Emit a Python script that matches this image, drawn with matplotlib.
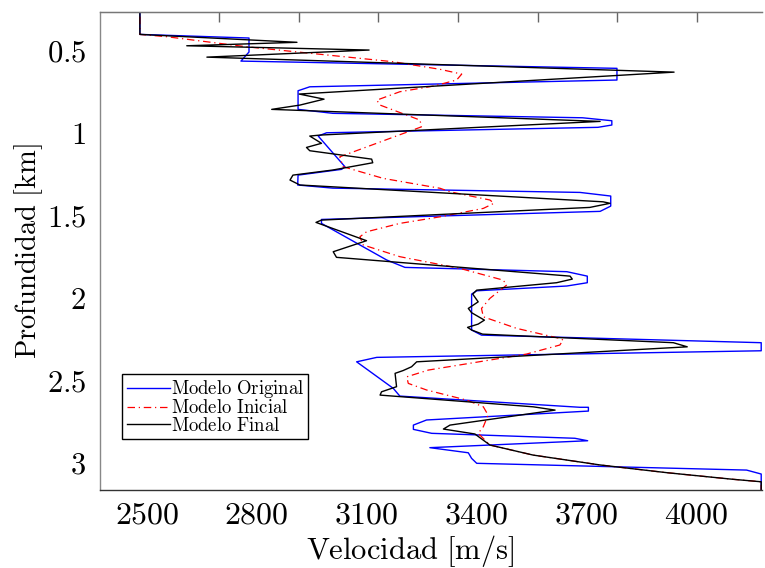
import matplotlib
matplotlib.use('Agg')
import matplotlib.pyplot as plt
from matplotlib.ticker import FuncFormatter

plt.rcParams['mathtext.fontset'] = 'cm'
plt.rcParams['font.family'] = ['DejaVu Serif']

# Velocity models: velocity [m/s] versus depth [km]
orig_v = [2481, 2481, 2779, 2779, 2757, 3784, 3784, 2945, 2913, 2913, 3008, 3690,
          3770, 3770, 3732, 2991, 2968, 3041, 3032, 2913, 2912, 3008, 3683, 3767,
          3767, 3738, 2977, 2977, 3155, 3205, 3647, 3703, 3703, 3647, 3401, 3387,
          3387, 3414, 4178, 4178, 3128, 3073, 3173, 3191, 3683, 3706, 3706, 3264,
          3228, 3228, 3278, 3669, 3704, 3273, 3378, 3387, 3401, 4138, 4178, 4178]
orig_z = [0.20, 0.406, 0.428, 0.513, 0.568, 0.612, 0.683, 0.724, 0.748, 0.861, 0.885, 0.912,
          0.930, 0.956, 0.970, 1.003, 1.023, 1.209, 1.225, 1.260, 1.320, 1.339, 1.365, 1.387,
          1.448, 1.480, 1.529, 1.553, 1.775, 1.820, 1.846, 1.873, 1.913, 1.933, 1.962, 1.982,
          2.200, 2.231, 2.277, 2.326, 2.366, 2.393, 2.554, 2.601, 2.669, 2.669, 2.692, 2.746,
          2.777, 2.803, 2.827, 2.857, 2.872, 2.914, 2.945, 2.979, 3.009, 3.050, 3.074, 3.20]

init_v = [2481, 2481, 2554, 2772, 3173, 3301, 3360, 3346, 3282, 3191, 3128, 3137,
          3246, 3250, 3164, 3027, 3036, 3146, 3301, 3328, 3437, 3448, 3419, 3301,
          3191, 3100, 3082, 3091, 3191, 3355, 3473, 3483, 3437, 3414, 3419, 3510,
          3628, 3637, 3628, 3537, 3269, 3210, 3214, 3264, 3373, 3419, 3432, 3419,
          3405, 3437, 3555, 3738, 3921, 4101, 4178, 4178]
init_z = [0.20, 0.406, 0.420, 0.481, 0.572, 0.618, 0.647, 0.683, 0.720, 0.754, 0.805, 0.835,
          0.926, 0.967, 1.037, 1.149, 1.209, 1.280, 1.340, 1.361, 1.411, 1.431, 1.462, 1.513,
          1.553, 1.604, 1.634, 1.684, 1.755, 1.826, 1.897, 1.927, 2.008, 2.069, 2.120, 2.190,
          2.251, 2.261, 2.291, 2.346, 2.443, 2.484, 2.524, 2.564, 2.625, 2.666, 2.716, 2.787,
          2.827, 2.898, 2.959, 3.019, 3.066, 3.106, 3.121, 3.20]

final_v = [2481, 2481, 2910, 2609, 3107, 2664, 3940, 2916, 2984, 2918, 2841, 3738,
           2973, 2945, 2977, 2936, 2945, 3114, 3117, 3008, 2899, 2891, 2918, 3746,
           3765, 3710, 2977, 2962, 3100, 3009, 3018, 3656, 3662, 3619, 3401, 3390,
           3405, 3378, 3387, 3422, 3405, 3376, 3387, 3417, 3938, 3976, 3237, 3223,
           3200, 3178, 3182, 3141, 3137, 3555, 3615, 3328, 3310, 3396, 3437, 3555,
           3738, 3921, 4101, 4178, 4178]
final_z = [0.20, 0.406, 0.454, 0.475, 0.501, 0.544, 0.635, 0.768, 0.799, 0.835, 0.861, 0.934,
           1.017, 1.023, 1.067, 1.092, 1.112, 1.163, 1.185, 1.229, 1.260, 1.290, 1.320, 1.422,
           1.431, 1.456, 1.533, 1.547, 1.658, 1.725, 1.759, 1.873, 1.891, 1.913, 1.958, 1.982,
           2.029, 2.069, 2.095, 2.140, 2.164, 2.184, 2.200, 2.225, 2.277, 2.302, 2.393, 2.423,
           2.446, 2.463, 2.544, 2.575, 2.595, 2.666, 2.686, 2.777, 2.801, 2.831, 2.898, 2.959,
           3.019, 3.066, 3.106, 3.121, 3.20]

x_ticks = [2500, 2800, 3100, 3400, 3700, 4000]
y_ticks = [0.5, 1, 1.5, 2, 2.5, 3]
top_ticks = [2697, 2915, 3131, 3350, 3568, 3784, 4003]

labels = [r'$\mathrm{Modelo\ Original}$', r'$\mathrm{Modelo\ Inicial}$',
          r'$\mathrm{Modelo\ Final}$']

fig = plt.figure(figsize=(7.65, 5.68), dpi=100)
ax = fig.add_axes([0.1307, 0.1373, 0.9960 - 0.1307, 0.9789 - 0.1373])

ax.plot(orig_v, orig_z, color='#0000ff', lw=1.0, label=labels[0])
ax.plot(init_v, init_z, color='#ff0000', lw=0.9,
        linestyle=(0, (6, 3, 1, 3)), label=labels[1])
ax.plot(final_v, final_z, color='black', lw=1.0, label=labels[2])

ax.set_xlim(2372, 4180)
ax.set_ylim(3.171, 0.27)

ax.set_xticks(x_ticks)
ax.set_yticks(y_ticks)
ax.xaxis.set_major_formatter(FuncFormatter(lambda v, p: f'${v:g}$'))
ax.yaxis.set_major_formatter(FuncFormatter(lambda v, p: f'${v:g}$'))
ax.tick_params(axis='both', length=0)
ax.tick_params(axis='x', pad=7, labelsize=23)
ax.tick_params(axis='y', pad=10, labelsize=22)

top = ax.secondary_xaxis('top')
top.set_xticks(top_ticks, labels=[])
top.tick_params(direction='in', length=7, width=1.0, color='#666666')
top.spines['top'].set_color('#777777')

for side, col in [('left', '#888888'), ('top', '#777777'), ('bottom', '#333333')]:
    ax.spines[side].set_color(col)
    ax.spines[side].set_linewidth(1.0)
ax.spines['right'].set_visible(False)

ax.set_xlabel(r'$\mathrm{Velocidad\ [m/s]}$', fontsize=22, va='center')
ax.xaxis.set_label_coords(0.468, -0.128)
ax.set_ylabel(r'$\mathrm{Profundidad\ [km]}$', fontsize=20.5, va='center')
ax.yaxis.set_label_coords(-0.108, 0.50)

leg = ax.legend(loc='lower left', bbox_to_anchor=(0.034, 0.107), borderaxespad=0,
                fontsize=13.5, frameon=True, fancybox=False, framealpha=1,
                edgecolor='black', handlelength=2.3, handletextpad=0.05,
                labelspacing=-0.04, borderpad=0.22)
leg.get_frame().set_linewidth(1.0)

fig.savefig('out.png', dpi=100)
